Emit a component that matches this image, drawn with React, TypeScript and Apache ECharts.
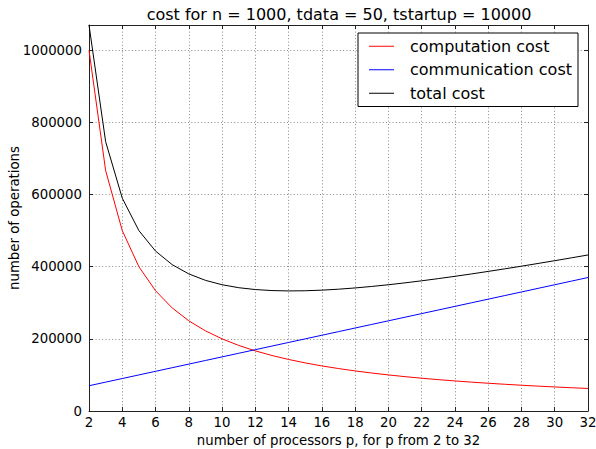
import React, { useEffect, useRef } from "react";
import * as echarts from "echarts";

const processors = [2, 3, 4, 5, 6, 7, 8, 9, 10, 11, 12, 13, 14, 15, 16, 17, 18, 19, 20, 21, 22, 23, 24, 25, 26, 27, 28, 29, 30, 31, 32];
const computationCost = [1000000, 666667, 500000, 400000, 333333, 285714, 250000, 222222, 200000, 181818, 166667, 153846, 142857, 133333, 125000, 117647, 111111, 105263, 100000, 95238, 90909, 86957, 83333, 80000, 76923, 74074, 71429, 68966, 66667, 64516, 62500];
const communicationCost = [70000, 80000, 90000, 100000, 110000, 120000, 130000, 140000, 150000, 160000, 170000, 180000, 190000, 200000, 210000, 220000, 230000, 240000, 250000, 260000, 270000, 280000, 290000, 300000, 310000, 320000, 330000, 340000, 350000, 360000, 370000];
const totalCost = [1070000, 746667, 590000, 500000, 443333, 405714, 380000, 362222, 350000, 341818, 336667, 333846, 332857, 333333, 335000, 337647, 341111, 345263, 350000, 355238, 360909, 366957, 373333, 380000, 386923, 394074, 401429, 408966, 416667, 424516, 432500];
const yTicks = [0, 200000, 400000, 600000, 800000, 1000000];

const FONT = "DejaVu Sans";

export default function App() {
  const ref = useRef<HTMLDivElement>(null);
  useEffect(() => {
    if (!ref.current) return;
    const chart = echarts.init(ref.current, null, { renderer: "svg" });
    const axisCommon = {
      type: "value" as const,
      axisLine: { show: true, onZero: false, lineStyle: { color: "#222", width: 1 } },
      axisTick: { show: true, inside: true, length: 4, lineStyle: { color: "#222" } },
    };
    const gridLine = { show: true, lineStyle: { color: "#8a8a8a", type: [1, 2.3], width: 1 } };
    chart.setOption({
      animation: false,
      backgroundColor: "#fff",
      textStyle: { fontFamily: FONT },
      graphic: [
        {
          type: "text",
          x: 339,
          y: 14,
          style: {
            text: "cost for n = 1000, tdata = 50, tstartup = 10000",
            fontFamily: FONT,
            fontSize: 16,
            fill: "#000",
            textAlign: "center",
            textVerticalAlign: "middle",
          },
        },
      ],
      legend: {
        left: 358,
        top: 33,
        orient: "vertical",
        padding: [4, 6, 4, 11],
        itemGap: 5,
        itemWidth: 25,
        itemHeight: 1,
        icon: "rect",
        borderColor: "#000",
        borderWidth: 1,
        backgroundColor: "#fff",
        borderRadius: 0,
        textStyle: { fontFamily: FONT, fontSize: 16, color: "#000", padding: [0, 0, 0, 11], lineHeight: 18.5 },
        data: ["computation cost", "communication cost", "total cost"],
      },
      grid: { left: 89, right: 8, top: 25, bottom: 38, containLabel: false, outerBoundsMode: "none" },
      xAxis: [
        {
          ...axisCommon,
          position: "bottom",
          min: 2,
          max: 32,
          interval: 2,
          name: "number of processors p, for p from 2 to 32",
          nameLocation: "middle",
          nameGap: 23,
          nameMoveOverlap: false,
          nameTextStyle: { fontFamily: FONT, fontSize: 13.3, color: "#000" },
          axisLabel: { fontFamily: FONT, fontSize: 13.3, color: "#000", margin: 5 },
          splitLine: gridLine,
        },
        {
          ...axisCommon,
          position: "top",
          min: 2,
          max: 32,
          interval: 2,
          axisLabel: { show: false },
          splitLine: { show: false },
        },
      ],
      yAxis: [
        {
          ...axisCommon,
          position: "left",
          min: 0,
          max: 1070000,
          interval: 200000,
          name: "number of operations",
          nameLocation: "middle",
          nameGap: 68,
          nameMoveOverlap: false,
          nameTextStyle: { fontFamily: FONT, fontSize: 13.3, color: "#000" },
          axisLabel: {
            fontFamily: FONT,
            fontSize: 13.3,
            color: "#000",
            margin: 7,
            formatter: (v: number) => (yTicks.includes(v) ? String(v) : ""),
          },
          splitLine: gridLine,
        },
        {
          ...axisCommon,
          position: "right",
          min: 0,
          max: 1070000,
          interval: 200000,
          axisLabel: { show: false },
          splitLine: { show: false },
        },
      ],
      series: [
        {
          name: "computation cost",
          type: "line",
          data: processors.map((p, i) => [p, computationCost[i]]),
          symbol: "none",
          color: "#ff0000",
          lineStyle: { color: "#ff0000", width: 1 },
        },
        {
          name: "communication cost",
          type: "line",
          data: processors.map((p, i) => [p, communicationCost[i]]),
          symbol: "none",
          color: "#0000ff",
          lineStyle: { color: "#0000ff", width: 1 },
        },
        {
          name: "total cost",
          type: "line",
          data: processors.map((p, i) => [p, totalCost[i]]),
          symbol: "none",
          color: "#000000",
          lineStyle: { color: "#000000", width: 1 },
        },
      ],
    });
    return () => chart.dispose();
  }, []);
  return <div ref={ref} style={{ width: 596, height: 449, position: "absolute", left: 0, top: 0 }} />;
}
